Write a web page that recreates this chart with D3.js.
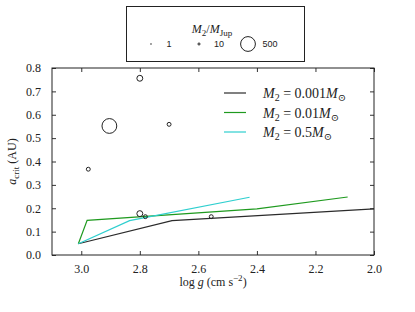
<!DOCTYPE html>
<html>
<head>
<meta charset="utf-8">
<script src="https://cdn.jsdelivr.net/npm/d3@7"></script>
<style>
  body { margin: 0; background: #fff; }
  text { font-family: "Liberation Serif", "DejaVu Serif", serif; fill: #222; }
</style>
</head>
<body>
<div id="chart"></div>
<script>
var width = 415, height = 312;
var margin = {left: 52, right: 41, top: 68, bottom: 57};

// lines: log g vs a_crit for three companion masses
var gBlack = [3.01, 2.69, 2.0];
var aBlack = [0.048, 0.147, 0.197];
var gGreen = [3.01, 2.98, 2.40, 2.09];
var aGreen = [0.048, 0.148, 0.197, 0.248];
var gCyan = [3.01, 2.835, 2.425];
var aCyan = [0.048, 0.147, 0.247];

// planets: log g, a_crit, mass in M_Jup
var planetG = [2.80, 2.904, 2.70, 2.976, 2.80, 2.781, 2.556];
var planetA = [0.756, 0.552, 0.559, 0.367, 0.177, 0.164, 0.164];
var planetM = [80, 500, 35, 35, 80, 35, 35];

var sizeLegend = [1, 10, 500];
var xTicks = [3.0, 2.8, 2.6, 2.4, 2.2, 2.0];
var yTicks = [0.0, 0.1, 0.2, 0.3, 0.4, 0.5, 0.6, 0.7, 0.8];

var lineNames = ["0.001", "0.01", "0.5"];
var lineColors = ["#2b2b2b", "#1f9a1f", "#2fcfcf"];

var svg = d3.select("#chart").append("svg")
    .attr("width", width)
    .attr("height", height);

var x = d3.scaleLinear()
    .domain([3.1, 2.0])
    .range([margin.left, width - margin.right]);

var y = d3.scaleLinear()
    .domain([0, 0.8])
    .range([height - margin.bottom, margin.top]);

var r = d3.scaleSqrt().domain([0, 500]).range([0, 7.4]);

svg.append("defs").append("clipPath").attr("id", "clip")
    .append("rect")
    .attr("x", margin.left).attr("y", margin.top)
    .attr("width", width - margin.left - margin.right)
    .attr("height", height - margin.top - margin.bottom);

// axes with inward ticks on all four sides
function styleAxis(g) {
    g.select(".domain").remove();
    g.selectAll("line").attr("stroke", "#333");
    g.selectAll("text")
        .style("font-family", "Liberation Serif, DejaVu Serif, serif")
        .style("font-size", "12px")
        .attr("fill", "#222");
}

svg.append("g")
    .attr("transform", "translate(0," + (height - margin.bottom) + ")")
    .call(d3.axisBottom(x).tickValues(xTicks).tickFormat(d3.format(".1f"))
        .tickSizeInner(-4).tickPadding(9))
    .call(styleAxis);

svg.append("g")
    .attr("transform", "translate(0," + margin.top + ")")
    .call(d3.axisTop(x).tickValues(xTicks).tickFormat("").tickSizeInner(-4))
    .call(styleAxis);

svg.append("g")
    .attr("transform", "translate(" + margin.left + ",0)")
    .call(d3.axisLeft(y).tickValues(yTicks).tickFormat(d3.format(".1f"))
        .tickSizeInner(-4).tickPadding(11))
    .call(styleAxis);

svg.append("g")
    .attr("transform", "translate(" + (width - margin.right) + ",0)")
    .call(d3.axisRight(y).tickValues(yTicks).tickFormat("").tickSizeInner(-4))
    .call(styleAxis);

// series lines
var series = [
    {g: gBlack, a: aBlack},
    {g: gGreen, a: aGreen},
    {g: gCyan, a: aCyan}
];

var line = d3.line()
    .x(function (d) { return x(d[0]); })
    .y(function (d) { return y(d[1]); });

var plot = svg.append("g").attr("clip-path", "url(#clip)");

series.forEach(function (s, i) {
    plot.append("path")
        .datum(d3.zip(s.g, s.a))
        .attr("d", line)
        .attr("fill", "none")
        .attr("stroke", lineColors[i])
        .attr("stroke-width", 1.2);
});

// planets
plot.selectAll("circle.planet")
    .data(d3.range(planetG.length))
    .enter().append("circle")
    .attr("class", "planet")
    .attr("cx", function (i) { return x(planetG[i]); })
    .attr("cy", function (i) { return y(planetA[i]); })
    .attr("r", function (i) { return r(planetM[i]); })
    .attr("fill", "none")
    .attr("stroke", "#222")
    .attr("stroke-width", 1);

// frame
svg.append("rect")
    .attr("x", margin.left).attr("y", margin.top)
    .attr("width", width - margin.left - margin.right)
    .attr("height", height - margin.top - margin.bottom)
    .attr("fill", "none")
    .attr("stroke", "#222")
    .attr("stroke-width", 1);

// axis labels
var xl = svg.append("text")
    .attr("x", (margin.left + width - margin.right) / 2)
    .attr("y", 286)
    .attr("text-anchor", "middle")
    .style("font-size", "12px");
xl.append("tspan").text("log ");
xl.append("tspan").style("font-style", "italic").text("g");
xl.append("tspan").text(" (cm s");
xl.append("tspan").attr("dy", -5).style("font-size", "9px").text("\u22122");
xl.append("tspan").attr("dy", 5).text(")");

var yl = svg.append("text")
    .attr("transform", "translate(16," + ((margin.top + height - margin.bottom) / 2) + ") rotate(-90)")
    .attr("text-anchor", "middle")
    .style("font-size", "12px");
yl.append("tspan").style("font-style", "italic").text("a");
yl.append("tspan").attr("dy", 3).style("font-size", "9px").text("crit");
yl.append("tspan").attr("dy", -3).text(" (AU)");

// line legend
lineNames.forEach(function (name, i) {
    var ly = 93 + i * 19.5;
    svg.append("line")
        .attr("x1", 224).attr("x2", 246)
        .attr("y1", ly).attr("y2", ly)
        .attr("stroke", lineColors[i])
        .attr("stroke-width", 1.2);
    var t = svg.append("text")
        .attr("x", 263).attr("y", ly + 5)
        .style("font-size", "14px");
    t.append("tspan").style("font-style", "italic").text("M");
    t.append("tspan").attr("dy", 3).style("font-size", "10px").text("2");
    t.append("tspan").attr("dy", -3).text(" = " + name);
    t.append("tspan").style("font-style", "italic").text("M");
    t.append("tspan").attr("dy", 3).style("font-size", "10px").text("\u2299");
});

// size legend box
svg.append("rect")
    .attr("x", 126.5).attr("y", 6.5)
    .attr("width", 178).attr("height", 55)
    .attr("fill", "#fff")
    .attr("stroke", "#222")
    .attr("stroke-width", 1);

var lt = svg.append("text")
    .attr("x", 212).attr("y", 33)
    .attr("text-anchor", "middle")
    .style("font-size", "12px");
lt.append("tspan").style("font-style", "italic").text("M");
lt.append("tspan").attr("dy", 3).style("font-size", "9px").text("2");
lt.append("tspan").attr("dy", -3).text("/");
lt.append("tspan").style("font-style", "italic").text("M");
lt.append("tspan").attr("dy", 3).style("font-size", "9px").text("Jup");

var legX = [151, 199, 248];
var legTextX = [169, 219, 270];
sizeLegend.forEach(function (m, i) {
    svg.append("circle")
        .attr("cx", legX[i]).attr("cy", 44)
        .attr("r", r(m))
        .attr("fill", "none")
        .attr("stroke", "#222")
        .attr("stroke-width", 1);
    svg.append("text")
        .attr("x", legTextX[i]).attr("y", 47)
        .attr("text-anchor", "middle")
        .style("font-family", "Liberation Sans, Arial, sans-serif")
        .style("font-size", "9px")
        .text(m);
});
</script>
</body>
</html>
